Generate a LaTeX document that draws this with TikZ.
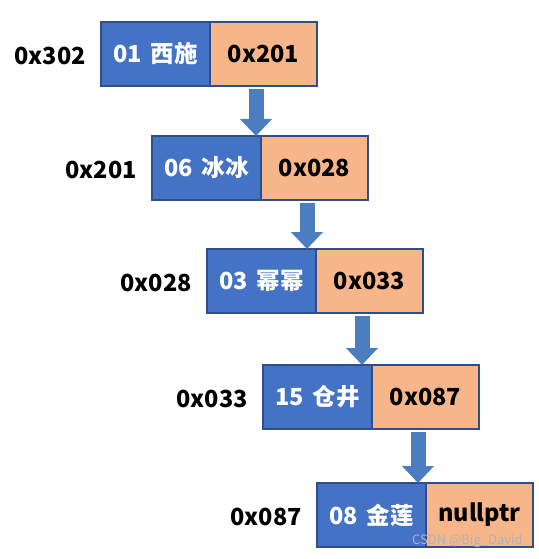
\documentclass[tikz,border=0pt]{standalone}
\usepackage{fontspec}
\setmainfont{Noto Sans CJK SC}
\usetikzlibrary{positioning,arrows.meta}
\definecolor{cellblue}{HTML}{4472C4}
\definecolor{cellorange}{HTML}{F6B68A}
\definecolor{cellline}{HTML}{2F4F8A}
\definecolor{arrowblue}{HTML}{4A7EC0}

\begin{document}
\begin{tikzpicture}[x=1pt,y=-1pt,
    cell/.style={draw=cellline,line width=1.3pt,minimum height=64pt,inner sep=0pt,outer sep=0pt,font=\fontsize{23.5}{26}\selectfont\bfseries},
    datacell/.style={cell,fill=cellblue,text=white,minimum width=109pt},
    ptrcell/.style={cell,fill=cellorange,minimum width=107pt},
    addr/.style={font=\fontsize{23.5}{26}\selectfont\bfseries,inner sep=0pt},
    flow/.style={draw=arrowblue,line width=15pt,-{Triangle[width=31pt,length=17pt]}}]
    \useasboundingbox (0,0) rectangle (538,559);

    \foreach \i/\x/\y/\own/\val/\link in {1/101/22/0x302/01\ \,西施/0x201, 2/152/136/0x201/06\ \,冰冰/0x028, 3/207/249/0x028/03\ \,幂幂/0x033, 4/263/365/0x033/15\ \,仓井/0x087, 5/317/483/0x087/08\ \,金莲/nullptr} {
        % Data half of the list node
        \node[datacell,anchor=north west] (data\i) at (\x,\y) {\val};
        % Pointer half, next address
        \node[ptrcell,right=0pt of data\i] (ptr\i) {\link};
        % Own address on the left
        \node[addr,left=15pt of data\i,yshift=-2pt] (addr\i) {\own};
    }

    \foreach \i/\j in {1/2, 2/3, 3/4, 4/5} {
        % Arrow down to the next node
        \coordinate (from\i) at ([xshift=46pt,yshift=-3pt]ptr\i.south west);
        \draw[flow] (from\i) -- (from\i |- data\j.north);
    }

    \node[text=gray!60,font=\fontsize{13}{15}\selectfont,anchor=south east,inner sep=0pt] (mark) at (523,548) {CSDN @Big\_David};
\end{tikzpicture}
\end{document}
